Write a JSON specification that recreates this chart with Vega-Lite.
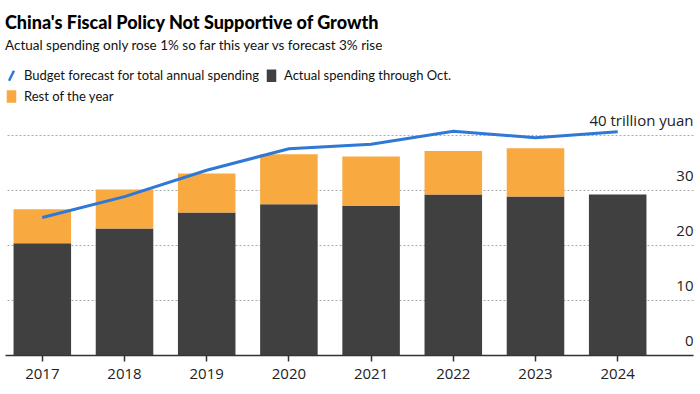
{
  "$schema": "https://vega.github.io/schema/vega-lite/v6.json",
  "width": 688,
  "height": 220,
  "autosize": {"type": "none"},
  "padding": {"left": 5, "right": 7, "top": 135, "bottom": 39},
  "background": "white",
  "title": {
    "text": "China's Fiscal Policy Not Supportive of Growth",
    "subtitle": "Actual spending only rose 1% so far this year vs forecast 3% rise",
    "anchor": "start",
    "frame": "group",
    "font": "Lato",
    "fontSize": 18,
    "fontWeight": 900,
    "color": "#000000",
    "subtitleFont": "Lato",
    "subtitleFontSize": 13.5,
    "subtitleColor": "#111111",
    "subtitlePadding": 6,
    "offset": 17
  },
  "config": {"view": {"stroke": null}},
  "data": {
    "values": [
      {"year": "2017", "series": "Actual spending through Oct.", "value": 20.3},
      {"year": "2017", "series": "Rest of the year", "value": 6.2},
      {"year": "2017", "series": "Budget forecast for total annual spending", "value": 25.0},
      {"year": "2018", "series": "Actual spending through Oct.", "value": 23.0},
      {"year": "2018", "series": "Rest of the year", "value": 7.1},
      {"year": "2018", "series": "Budget forecast for total annual spending", "value": 28.8},
      {"year": "2019", "series": "Actual spending through Oct.", "value": 25.9},
      {"year": "2019", "series": "Rest of the year", "value": 7.1},
      {"year": "2019", "series": "Budget forecast for total annual spending", "value": 33.6},
      {"year": "2020", "series": "Actual spending through Oct.", "value": 27.4},
      {"year": "2020", "series": "Rest of the year", "value": 9.1},
      {"year": "2020", "series": "Budget forecast for total annual spending", "value": 37.5},
      {"year": "2021", "series": "Actual spending through Oct.", "value": 27.1},
      {"year": "2021", "series": "Rest of the year", "value": 9.0},
      {"year": "2021", "series": "Budget forecast for total annual spending", "value": 38.3},
      {"year": "2022", "series": "Actual spending through Oct.", "value": 29.2},
      {"year": "2022", "series": "Rest of the year", "value": 7.9},
      {"year": "2022", "series": "Budget forecast for total annual spending", "value": 40.7},
      {"year": "2023", "series": "Actual spending through Oct.", "value": 28.8},
      {"year": "2023", "series": "Rest of the year", "value": 8.8},
      {"year": "2023", "series": "Budget forecast for total annual spending", "value": 39.5},
      {"year": "2024", "series": "Actual spending through Oct.", "value": 29.2},
      {"year": "2024", "series": "Budget forecast for total annual spending", "value": 40.6}
    ]
  },
  "layer": [
    {
      "transform": [{"filter": "datum.series !== 'Budget forecast for total annual spending'"}],
      "mark": {"type": "bar"},
      "encoding": {
        "x": {
          "field": "year",
          "type": "nominal",
          "scale": {"paddingInner": 0.3, "paddingOuter": 0.335, "align": 0.155},
          "axis": {
            "title": null,
            "labelAngle": 0,
            "labelFont": "Open Sans",
            "labelFontSize": 15,
            "labelColor": "#222222",
            "labelPadding": 5,
            "domainColor": "#333333",
            "domainWidth": 1.5,
            "tickColor": "#333333",
            "tickSize": 6,
            "tickWidth": 1.5,
            "grid": false
          }
        },
        "y": {
          "field": "value",
          "type": "quantitative",
          "stack": "zero",
          "scale": {"domain": [0, 40], "nice": false},
          "axis": {
            "title": null,
            "orient": "right",
            "values": [0, 10, 20, 30, 40],
            "labelExpr": "datum.value === 40 ? '40 trillion yuan' : datum.label",
            "labelAlign": "right",
            "labelBaseline": "alphabetic",
            "labelOffset": -10,
            "labelPadding": 0,
            "labelFont": "Open Sans",
            "labelFontSize": 15,
            "labelColor": "#222222",
            "labelFlush": false,
            "labelOverlap": false,
            "domain": false,
            "ticks": false,
            "grid": true,
            "gridDash": [2, 2],
            "gridColor": "#aaaaaa",
            "gridWidth": 1
          }
        },
        "color": {
          "field": "series",
          "type": "nominal",
          "scale": {
            "domain": ["Budget forecast for total annual spending", "Actual spending through Oct.", "Rest of the year"],
            "range": ["#2f78d6", "#404040", "#f8a940"]
          },
          "legend": {
            "title": null,
            "orient": "top",
            "direction": "horizontal",
            "columns": 2,
            "columnPadding": 3,
            "rowPadding": 0,
            "offset": 18,
            "labelFont": "Lato",
            "labelFontSize": 13,
            "labelLimit": 0,
            "labelColor": "#111111",
            "labelOffset": 6,
            "symbolSize": 49,
            "encode": {
              "symbols": {
                "update": {
                  "shape": {"signal": "datum.value === 'Budget forecast for total annual spending' ? 'M-0.7,1.43L0.7,-1.43' : 'M-1,-1.43H1V1.43H-1Z'"},
                  "fill": {"signal": "datum.value === 'Budget forecast for total annual spending' ? 'transparent' : (datum.value === 'Rest of the year' ? '#f8a940' : '#404040')"},
                  "stroke": {"signal": "datum.value === 'Budget forecast for total annual spending' ? '#2f78d6' : 'transparent'"},
                  "strokeWidth": {"value": 2.5},
                  "opacity": {"value": 1}
                }
              }
            }
          }
        },
        "order": {"field": "series", "sort": "ascending"}
      }
    },
    {
      "transform": [{"filter": "datum.series === 'Budget forecast for total annual spending'"}],
      "mark": {"type": "line", "strokeWidth": 3},
      "encoding": {
        "x": {"field": "year", "type": "nominal"},
        "y": {"field": "value", "type": "quantitative"},
        "color": {"field": "series", "type": "nominal"}
      }
    }
  ]
}
